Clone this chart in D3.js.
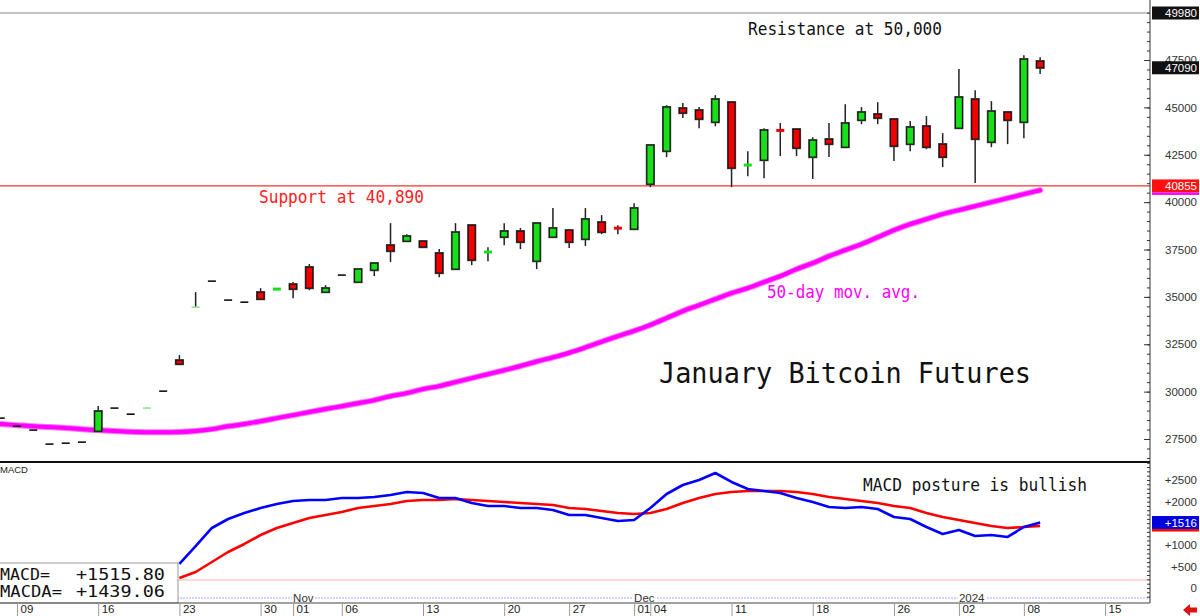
<!DOCTYPE html>
<html><head><meta charset="utf-8">
<script src="https://cdn.jsdelivr.net/npm/d3@7"></script>
<style>html,body{margin:0;padding:0;background:#fff;overflow:hidden}</style>
</head><body>
<svg id="c" width="1200" height="616"></svg>
<script>
// ---------------- DATA ----------------
const dates = [
"2023-10-06","2023-10-09","2023-10-10","2023-10-11","2023-10-12","2023-10-13",
"2023-10-16","2023-10-17","2023-10-18","2023-10-19","2023-10-20",
"2023-10-23","2023-10-24","2023-10-25","2023-10-26","2023-10-27",
"2023-10-30","2023-10-31","2023-11-01","2023-11-02","2023-11-03",
"2023-11-06","2023-11-07","2023-11-08","2023-11-09","2023-11-10",
"2023-11-13","2023-11-14","2023-11-15","2023-11-16","2023-11-17",
"2023-11-20","2023-11-21","2023-11-22","2023-11-24",
"2023-11-27","2023-11-28","2023-11-29","2023-11-30","2023-12-01",
"2023-12-04","2023-12-05","2023-12-06","2023-12-07","2023-12-08",
"2023-12-11","2023-12-12","2023-12-13","2023-12-14","2023-12-15",
"2023-12-18","2023-12-19","2023-12-20","2023-12-21","2023-12-22",
"2023-12-26","2023-12-27","2023-12-28","2023-12-29",
"2024-01-02","2024-01-03","2024-01-04","2024-01-05",
"2024-01-08","2024-01-09"];
const futureDates = ["2024-01-10","2024-01-11","2024-01-12","2024-01-15"];

const open = [28600,28180,27970,27230,27280,27335,27915,29130,28810,29110,30025,
31660,34440,35830,34830,34720,35250,35380,35670,36570,35250,36150,35780,36410,37730,37940,
37940,37310,36465,38785,37330,38155,38470,36885,38155,38520,38045,38945,38660,38575,
40950,42690,44960,44855,44220,45275,41920,42215,43820,43850,42375,43325,42900,44325,44645,
44380,43060,44010,43060,43905,45435,43165,44750,44220,47440];
const high = [28600,28180,27970,27230,27280,27335,29240,29130,28810,29150,30025,
31925,35250,35830,34830,34720,35460,35440,35780,36730,35620,36150,36465,36780,38890,38310,
37990,37520,38890,38785,37625,38890,38630,38890,39685,38520,39685,39315,38785,39945,
43010,45120,45225,45015,45645,45275,42690,43905,44170,43850,43430,44170,45170,45015,45275,
44380,44275,44540,43640,47020,45910,45330,44750,47755,47650];
const low = [28600,28180,27970,27230,27280,27335,27915,29130,28810,29110,30025,
31450,34440,35830,34830,34720,34880,35380,34930,35355,35250,36150,35780,36095,36835,37940,
37600,36040,36465,36675,36885,37730,37520,36465,38155,37575,37680,38310,38310,38575,
40790,42375,44435,43905,44010,40790,41370,41265,42430,42430,41215,42375,42850,44115,44115,
42165,42690,42795,41845,43905,41005,42900,43060,43375,46755];
const close = [28600,28180,27970,27230,27280,27335,28970,29130,28810,29150,30025,
31450,34470,35830,34830,34720,34880,35440,35410,35460,35460,36150,36465,36780,37415,38205,
37625,36255,38415,36940,37400,38470,37890,38890,38630,37890,39105,38415,38590,39685,
43010,45015,44700,44380,45435,41795,41990,43800,43750,42850,43270,43060,44170,44750,44435,
42955,43960,42900,42375,45540,43325,44800,44325,47545,47090];

const ma50 = [28290,28230,28170,28130,28080,28020,27970,27920,27880,27860,27860,
27870,27920,28020,28170,28290,28440,28600,28760,28920,29080,29230,29390,29550,29760,29920,
30130,30290,30500,30710,30920,31130,31350,31590,31810,32050,32330,32630,32930,33210,
33520,33880,34250,34560,34880,35200,35460,35780,36090,36460,36780,37150,37470,37780,38150,
38520,38840,39100,39370,39580,39790,40000,40210,40420,40630];

const macd = [null,null,null,null,null,null,null,null,null,null,null,
556,972,1389,1597,1736,1852,1944,2014,2037,2037,2083,2083,2106,2153,2222,
2199,2083,2083,1968,1898,1898,1852,1852,1806,1690,1690,1620,1551,1574,
1852,2176,2384,2500,2662,2454,2292,2245,2199,2083,1991,1875,1852,1875,1829,
1644,1597,1412,1250,1343,1204,1227,1181,1412,1515.80];
const macdSignal = [null,null,null,null,null,null,null,null,null,null,null,
231,370,602,833,1019,1227,1389,1505,1620,1690,1759,1852,1898,1944,2014,
2037,2037,2060,2037,2014,1991,1968,1944,1921,1852,1829,1782,1736,1713,
1736,1829,1968,2083,2176,2222,2245,2245,2245,2222,2176,2106,2060,2014,1968,
1898,1852,1736,1644,1574,1505,1435,1389,1412,1439.06];

const priceTicks = [27500,30000,32500,35000,37500,40000,42500,45000,47500];
const macdTicks = [0,500,1000,2000,2500];
const dateTickDates = ["2023-10-09","2023-10-16","2023-10-23","2023-10-30","2023-11-01","2023-11-06",
"2023-11-13","2023-11-20","2023-11-27","2023-12-01","2023-12-04","2023-12-11","2023-12-18",
"2023-12-26","2024-01-02","2024-01-08","2024-01-15"];
const dateTickLabels = ["09","16","23","30","01","06","13","20","27","01","04","11","18","26","02","08","15"];
const monthDates = ["2023-11-01","2023-12-01","2024-01-02"];
const monthLabels = ["Nov","Dec","2024"];

const resistanceLevel = 49980;
const supportLevel = 40855;
const lastMacd = 1515.80, lastSignal = 1439.06;
const annotations = {
  resistance: "Resistance at 50,000",
  support: "Support at 40,890",
  ma: "50-day mov. avg.",
  title: "January Bitcoin Futures",
  macdNote: "MACD posture is bullish"
};

// ---------------- CHART ----------------
const svg = d3.select("#c");
const AX = 1150;
const allDates = dates.concat(futureDates);
const x = d3.scalePoint().domain(allDates).range([0.76, 0.76 + 16.24*(allDates.length-1)]);
const y = d3.scaleLinear().domain([27500, 47500]).range([439, 60]);
const ym = d3.scaleLinear().domain([0, 2500]).range([588, 480]);

const mono = "'DejaVu Sans Mono', 'Liberation Mono', monospace";
const sans = "'Liberation Sans', Arial, sans-serif";

svg.append("defs").append("clipPath").attr("id","mainclip")
  .append("rect").attr("x",0).attr("y",0).attr("width",AX).attr("height",461);

const main = svg.append("g").attr("clip-path","url(#mainclip)");

main.append("line").attr("x1",0).attr("x2",AX).attr("y1",y(resistanceLevel)).attr("y2",y(resistanceLevel))
  .attr("stroke","#888").attr("stroke-width",1);
main.append("line").attr("x1",0).attr("x2",AX).attr("y1",y(supportLevel)).attr("y2",y(supportLevel))
  .attr("stroke","#ff3030").attr("stroke-width",1.2);

const maLine = d3.line().x((d,i)=>x(dates[i])).y(d=>y(d)).curve(d3.curveMonotoneX);
main.append("path").datum(ma50).attr("d",maLine).attr("fill","none")
  .attr("stroke","#ff70ff").attr("stroke-width",6).attr("stroke-linecap","round");
main.append("path").datum(ma50).attr("d",maLine).attr("fill","none")
  .attr("stroke","#ff00ff").attr("stroke-width",4).attr("stroke-linecap","round");

const GREEN = "#18e018", RED = "#f00000";
const cdata = dates.map((d,i)=>({d,o:open[i],h:high[i],l:low[i],c:close[i]}));
const cg = main.selectAll("g.candle").data(cdata).enter().append("g").attr("class","candle");
cg.each(function(p){
  const g = d3.select(this);
  const cx = x(p.d);
  if (p.h > p.l) {
    g.append("line").attr("x1",cx).attr("x2",cx).attr("y1",y(p.h)).attr("y2",y(p.l))
      .attr("stroke","#222").attr("stroke-width",1.5);
  }
  if (p.o === p.c) {
    g.append("line").attr("x1",cx-4).attr("x2",cx+4).attr("y1",y(p.c)).attr("y2",y(p.c))
      .attr("stroke","#111").attr("stroke-width",1.6);
    return;
  }
  const col = p.c > p.o ? GREEN : RED;
  const top = y(Math.max(p.o,p.c)), bot = y(Math.min(p.o,p.c));
  const h = bot - top;
  if (h < 1) {
    g.append("line").attr("x1",cx-4).attr("x2",cx+4).attr("y1",(top+bot)/2).attr("y2",(top+bot)/2)
      .attr("stroke", p.c > p.o ? "#8fe88f" : "#f88").attr("stroke-width",1.6);
  } else if (h < 3) {
    g.append("line").attr("x1",cx-4).attr("x2",cx+4).attr("y1",(top+bot)/2).attr("y2",(top+bot)/2)
      .attr("stroke", col).attr("stroke-width",3);
  } else {
    g.append("rect").attr("x",cx-3.5).attr("y",top).attr("width",7).attr("height",h)
      .attr("fill",col).attr("stroke","#555").attr("stroke-width",2.2);
    g.append("rect").attr("x",cx-3.5).attr("y",top).attr("width",7).attr("height",h)
      .attr("fill",col).attr("stroke","#111").attr("stroke-width",1.1);
  }
});

function ann(txt, x0, base, w, size, color){
  svg.append("text").attr("x",x0).attr("y",base).text(txt)
    .attr("font-family",mono).attr("font-size",size).attr("fill",color)
    .attr("textLength",w).attr("lengthAdjust","spacingAndGlyphs");
}
ann(annotations.resistance, 748, 35, 194, 17, "#111");
ann(annotations.support, 259, 203, 165, 17, "#ff2020");
ann(annotations.ma, 767, 298, 153, 17, "#ff00ff");
ann(annotations.title, 659, 383, 372, 29, "#111");
ann(annotations.macdNote, 863, 491, 224, 17, "#111");

svg.append("line").attr("x1",0).attr("x2",AX).attr("y1",462).attr("y2",462)
  .attr("stroke","#111").attr("stroke-width",2);

// ---------------- MACD panel ----------------
svg.append("line").attr("x1",0).attr("x2",AX).attr("y1",580).attr("y2",580)
  .attr("stroke","#ffb0b0").attr("stroke-width",1);
svg.append("line").attr("x1",0).attr("x2",AX).attr("y1",598).attr("y2",598)
  .attr("stroke","#a8a8ff").attr("stroke-width",1).attr("stroke-dasharray","2,1");

const mLine = d3.line().defined(d=>d!==null).x((d,i)=>x(dates[i])).y(d=>ym(d));
svg.append("path").datum(macdSignal).attr("d",mLine).attr("fill","none")
  .attr("stroke","#ff0000").attr("stroke-width",2.6).attr("stroke-linejoin","round");
svg.append("path").datum(macd).attr("d",mLine).attr("fill","none")
  .attr("stroke","#0000ff").attr("stroke-width",2.6).attr("stroke-linejoin","round");

svg.append("text").attr("x",0).attr("y",473).text("MACD")
  .attr("font-family",sans).attr("font-size",9.5).attr("fill","#222");

monthDates.forEach((d,i)=>{
  const mx = x(d);
  const t = svg.append("text").attr("x",mx).attr("y",601.5).text(monthLabels[i])
    .attr("font-family",sans).attr("font-size",11.5).attr("fill","#333");
  const bb = t.node().getBBox();
  svg.insert("rect", "text:last-of-type").attr("x",bb.x-1).attr("y",593).attr("width",bb.width+2).attr("height",9).attr("fill","#fff");
  t.raise();
});

svg.append("rect").attr("x",-2).attr("y",563).attr("width",180).attr("height",40)
  .attr("fill","#fff").attr("stroke","#999").attr("stroke-width",1);
function boxText(txt, x0, base, w){
  svg.append("text").attr("x",x0).attr("y",base).text(txt)
    .attr("font-family",mono).attr("font-size",16.5).attr("fill","#111")
    .attr("textLength",w).attr("lengthAdjust","spacingAndGlyphs");
}
boxText("MACD=", 0, 580, 50);
boxText("MACDA=", 0, 597, 62);
boxText(d3.format("+.2f")(lastMacd), 76, 580, 89);
boxText(d3.format("+.2f")(lastSignal), 76, 597, 89);

// ---------------- axes ----------------
svg.append("line").attr("x1",AX).attr("x2",AX).attr("y1",0).attr("y2",603)
  .attr("stroke","#333").attr("stroke-width",1);

const priceMinor = d3.range(26500, 50001, 500);
const pMinor = svg.append("g").attr("transform",`translate(${AX},0)`)
  .call(d3.axisLeft(y).tickValues(priceMinor).tickSize(3).tickFormat(""));
pMinor.select(".domain").remove();
pMinor.selectAll("line").attr("stroke","#333");
const pMajor = svg.append("g").attr("transform",`translate(${AX},0)`)
  .call(d3.axisLeft(y).tickValues(priceTicks).tickSize(6).tickFormat(""));
pMajor.select(".domain").remove();
pMajor.selectAll("line").attr("stroke","#333");

const pLab = svg.append("g").attr("transform",`translate(${AX},0)`)
  .call(d3.axisRight(y).tickValues(priceTicks).tickSize(0).tickPadding(47).tickFormat(d3.format("d")));
pLab.select(".domain").remove();
pLab.selectAll("text").attr("text-anchor","end").attr("font-family",sans).attr("font-size",11.5).attr("fill","#333");

const macdMinor = d3.range(-200, 2901, 100);
const mMinor = svg.append("g").attr("transform",`translate(${AX},0)`)
  .call(d3.axisLeft(ym).tickValues(macdMinor).tickSize(3).tickFormat(""));
mMinor.select(".domain").remove();
mMinor.selectAll("line").attr("stroke","#333");
const mLab = svg.append("g").attr("transform",`translate(${AX},0)`)
  .call(d3.axisRight(ym).tickValues(macdTicks).tickSize(0).tickPadding(47).tickFormat(d=> d===0 ? "0" : "+"+d));
mLab.select(".domain").remove();
mLab.selectAll("text").attr("text-anchor","end").attr("font-family",sans).attr("font-size",11.5).attr("fill","#333");

function flag(val, scale, bg, txt, under){
  const cy = scale(val);
  svg.append("rect").attr("x",1152).attr("y",cy-6.5).attr("width",47).attr("height",13).attr("fill",bg);
  if (under) svg.append("rect").attr("x",1152).attr("y",cy+6.5).attr("width",47).attr("height",2.5).attr("fill",under);
  svg.append("text").attr("x",1197).attr("y",cy+4.2).attr("text-anchor","end").text(txt)
    .attr("font-family",sans).attr("font-size",11.5).attr("fill","#fff");
}
flag(resistanceLevel, y, "#111", d3.format("d")(resistanceLevel));
flag(close[close.length-1], y, "#111", d3.format("d")(close[close.length-1]));
flag(supportLevel, y, "#ff1010", d3.format("d")(supportLevel), "#ff00ff");
flag(lastMacd, ym, "#0000dd", "+"+Math.round(lastMacd), "#ff0000");

const xa = svg.append("g").attr("transform","translate(0,603)")
  .call(d3.axisBottom(x).tickValues(dateTickDates).tickSize(13).tickFormat((d,i)=>dateTickLabels[i]));
xa.select(".domain").attr("d",`M0,0H${AX}`).attr("stroke","#444");
xa.selectAll(".tick line").attr("stroke","#999");
xa.selectAll(".tick text").attr("text-anchor","start").attr("x",3).attr("y",2).attr("dy","0.71em")
  .attr("font-family",sans).attr("font-size",11.5).attr("fill","#222");

svg.append("path").attr("d","M1183,610 L1190,604 L1190,607.5 L1197,607.5 L1197,612.5 L1190,612.5 L1190,616 Z")
  .attr("fill","#e01010");
</script>
</body></html>
